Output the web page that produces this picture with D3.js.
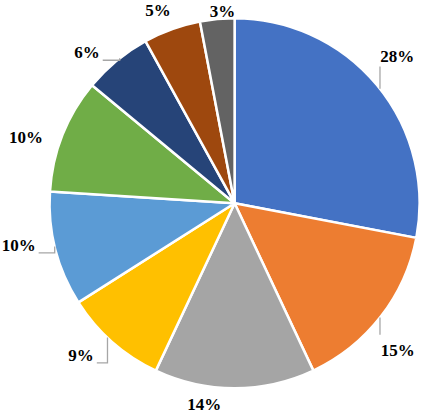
<!DOCTYPE html>
<html>
<head>
<meta charset="utf-8">
<script src="https://cdn.jsdelivr.net/npm/d3@7"></script>
<style>
  body { margin: 0; background: #fff; }
  .lbl { font-family: "Liberation Serif", "Times New Roman", serif; font-weight: bold; font-size: 17px; fill: #000; }
</style>
</head>
<body>
<div id="chart"></div>
<script>
// chart data
var categories = ["S1", "S2", "S3", "S4", "S5", "S6", "S7", "S8", "S9"];
var values = [28, 15, 14, 9, 10, 10, 6, 5, 3];
var colors = ["#4472C4", "#ED7D31", "#A5A5A5", "#FFC000", "#5B9BD5", "#70AD47", "#264478", "#9E480E", "#636363"];

// label placement (Excel "best fit" nudges): angle offset in degrees, distance from centre
var labelShift = [-2.4, 4.2, 8.6, 3.9, 3.4, -3.95, -4.8, -1.8, 1.8];
var labelDist = [219, 219.5, 203.5, 216, 220, 219, 211, 208, 192];
// leader lines: angle offset of the touch point on the rim, null = no leader
var leaderShift = [1.4, 0.4, null, 2.0, 0.9, null, 1.2, null, null];

var width = 423, height = 416;
var cx = 234.6, cy = 203.2, radius = 185;

var svg = d3.select("#chart").append("svg")
  .attr("width", width)
  .attr("height", height);

var g = svg.append("g")
  .attr("transform", `translate(${cx}, ${cy})`);

var data = categories.map(function(c, i) { return { name: c, value: values[i], color: colors[i] }; });

var pie = d3.pie()
  .sort(null)
  .value(d => d.value);

var arc = d3.arc()
  .innerRadius(0)
  .outerRadius(radius);

var arcs = pie(data);

g.selectAll("path.slice")
  .data(arcs)
  .enter().append("path")
  .attr("class", "slice")
  .attr("d", arc)
  .attr("fill", d => d.data.color)
  .attr("stroke", "#fff")
  .attr("stroke-width", 2.5)
  .attr("stroke-linejoin", "round");

var total = d3.sum(values);

function polar(angleRad, r) {
  return [r * Math.sin(angleRad), -r * Math.cos(angleRad)];
}

var labels = g.selectAll("text.lbl")
  .data(arcs)
  .enter().append("text")
  .attr("class", "lbl")
  .attr("text-anchor", "middle")
  .attr("dy", "0.34em")
  .attr("x", (d, i) => polar((d.startAngle + d.endAngle) / 2 + labelShift[i] * Math.PI / 180, labelDist[i])[0])
  .attr("y", (d, i) => polar((d.startAngle + d.endAngle) / 2 + labelShift[i] * Math.PI / 180, labelDist[i])[1])
  .text(d => Math.round(d.value / total * 100) + "%");

// leader lines
labels.each(function(d, i) {
  if (leaderShift[i] === null) return;
  var bb = this.getBBox();
  var p = polar((d.startAngle + d.endAngle) / 2 + leaderShift[i] * Math.PI / 180, radius);
  var lcx = bb.x + bb.width / 2;
  var right = lcx > p[0];
  var ey, ex;
  if (right) {
    ey = p[1] > bb.y + bb.height ? bb.y + bb.height : bb.y - 6;
    ex = p[0];
  } else {
    ey = bb.y + bb.height - 2;
    ex = bb.x + bb.width + 3;
  }
  g.append("path")
    .attr("d", `M${p[0]},${p[1]} V${ey} H${ex}`)
    .attr("fill", "none")
    .attr("stroke", "#A6A6A6")
    .attr("stroke-width", 1.3);
});
</script>
</body>
</html>
